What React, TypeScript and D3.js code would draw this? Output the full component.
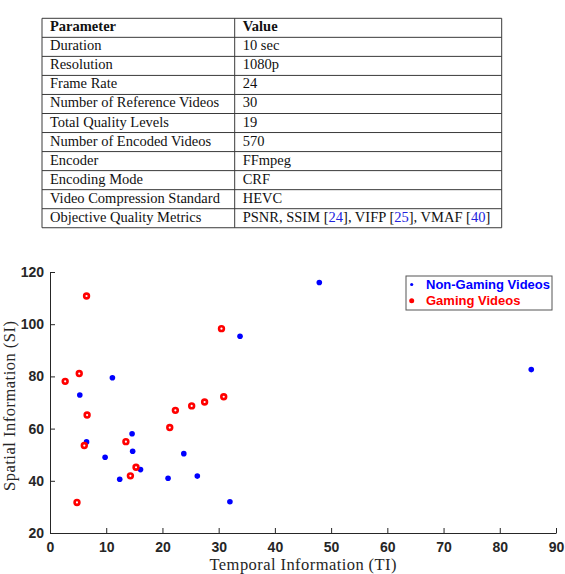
import React, { useRef, useEffect } from 'react';
import * as d3 from 'd3';

// table content
const paramNames = [
  'Duration',
  'Resolution',
  'Frame Rate',
  'Number of Reference Videos',
  'Total Quality Levels',
  'Number of Encoded Videos',
  'Encoder',
  'Encoding Mode',
  'Video Compression Standard',
  'Objective Quality Metrics',
];
const paramValues = [
  '10 sec',
  '1080p',
  '24',
  '30',
  '19',
  '570',
  'FFmpeg',
  'CRF',
  'HEVC',
  'PSNR, SSIM [24], VIFP [25], VMAF [40]',
];

// scatter data (TI, SI)
const nonGamingTI = [47.9, 85.6, 33.8, 11.1, 5.3, 6.5, 14.6, 14.7, 9.8, 23.8, 16.1, 12.4, 21.0, 26.2, 32.0];
const nonGamingSI = [116.0, 82.6, 95.4, 79.5, 72.9, 54.9, 58.0, 51.3, 49.0, 50.4, 44.3, 40.6, 41.0, 41.8, 32.0];
const gamingTI = [6.5, 30.5, 5.2, 2.7, 6.6, 30.9, 27.5, 25.2, 22.3, 21.3, 13.5, 6.1, 15.3, 14.3, 4.8];
const gamingSI = [110.8, 98.3, 81.1, 78.1, 65.2, 72.2, 70.2, 68.7, 67.0, 60.4, 55.0, 53.5, 45.2, 41.9, 31.7];

const xTicks = [0, 10, 20, 30, 40, 50, 60, 70, 80, 90];
const yTicks = [20, 40, 60, 80, 100, 120];

const W = 565;
const H = 574;

function App() {
  const svgRef = useRef<SVGSVGElement | null>(null);

  useEffect(() => {
    const svg = d3.select(svgRef.current);
    svg.selectAll('*').remove();

    // ---- table ----
    const tLeft = 42, tMid = 234.7, tRight = 501.7, tTop = 18.3, rowH = 19.04;
    const rows = [['Parameter', 'Value'], ...paramNames.map((p, i) => [p, paramValues[i]])];
    const table = svg.append('g')
      .style('font-family', '"Liberation Serif", "Times New Roman", serif')
      .style('font-size', '14.5px');

    const rowY = d3.scaleLinear().domain([0, rows.length]).range([tTop, tTop + rowH * rows.length]);

    table.selectAll('line.h')
      .data(d3.range(rows.length + 1))
      .enter().append('line')
      .attr('x1', tLeft).attr('x2', tRight)
      .attr('y1', d => rowY(d)).attr('y2', d => rowY(d))
      .attr('stroke', '#3a3a3a').attr('stroke-width', 1);
    [tLeft, tMid, tRight].forEach(x => {
      table.append('line')
        .attr('x1', x).attr('x2', x)
        .attr('y1', rowY(0)).attr('y2', rowY(rows.length))
        .attr('stroke', '#3a3a3a').attr('stroke-width', 1);
    });

    rows.forEach((r, i) => {
      const y = rowY(i) + 13;
      table.append('text')
        .attr('x', 50).attr('y', y)
        .attr('font-weight', i === 0 ? 'bold' : 'normal')
        .attr('fill', '#111')
        .text(r[0]);
      const t = table.append('text')
        .attr('x', 242.7).attr('y', y)
        .attr('font-weight', i === 0 ? 'bold' : 'normal')
        .attr('fill', '#111');
      // citations: number inside brackets in blue
      r[1].split(/(\[\d+\])/).filter(s => s.length).forEach(seg => {
        const m = seg.match(/^\[(\d+)\]$/);
        if (m) {
          t.append('tspan').text('[');
          t.append('tspan').attr('fill', '#2222dd').text(m[1]);
          t.append('tspan').text(']');
        } else {
          t.append('tspan').text(seg);
        }
      });
    });

    // ---- scatter ----
    const x = d3.scaleLinear().domain([0, 90]).range([50, 556]);
    const y = d3.scaleLinear().domain([20, 120]).range([533, 272]);
    const axisColor = '#262626';

    const xAxis = svg.append('g')
      .attr('transform', `translate(0,${y(20)})`)
      .call(d3.axisBottom(x).tickValues(xTicks).tickSizeInner(-5).tickSizeOuter(0).tickPadding(9));
    const yAxis = svg.append('g')
      .attr('transform', `translate(${x(0)},0)`)
      .call(d3.axisLeft(y).tickValues(yTicks).tickSizeInner(-5).tickSizeOuter(0).tickPadding(6));

    [xAxis, yAxis].forEach(g => {
      g.select('.domain').attr('stroke', axisColor).attr('stroke-width', 1);
      g.selectAll('.tick line').attr('stroke', axisColor).attr('stroke-width', 1);
      g.selectAll('.tick text')
        .attr('fill', axisColor)
        .style('font-family', '"Liberation Sans", Arial, sans-serif')
        .style('font-size', '14px')
        .style('font-weight', 'bold');
    });

    svg.append('g')
      .selectAll('circle')
      .data(nonGamingTI.map((t, i) => [t, nonGamingSI[i]]))
      .enter().append('circle')
      .attr('cx', d => x(d[0]))
      .attr('cy', d => y(d[1]))
      .attr('r', 2.8)
      .attr('fill', '#0000ff');

    svg.append('g')
      .selectAll('circle')
      .data(gamingTI.map((t, i) => [t, gamingSI[i]]))
      .enter().append('circle')
      .attr('cx', d => x(d[0]))
      .attr('cy', d => y(d[1]))
      .attr('r', 2.4)
      .attr('fill', '#ffffff')
      .attr('stroke', '#ff0000')
      .attr('stroke-width', 2.6);

    // axis titles
    const labelFont = '"Liberation Serif", "Times New Roman", serif';
    svg.append('text')
      .attr('x', 303).attr('y', 570)
      .attr('text-anchor', 'middle')
      .attr('textLength', 187)
      .attr('lengthAdjust', 'spacing')
      .style('font-family', labelFont)
      .style('font-size', '16.5px')
      .attr('fill', axisColor)
      .text('Temporal Information (TI)');
    svg.append('text')
      .attr('transform', 'translate(15,406) rotate(-90)')
      .attr('text-anchor', 'middle')
      .attr('textLength', 170)
      .attr('lengthAdjust', 'spacing')
      .style('font-family', labelFont)
      .style('font-size', '16.5px')
      .attr('fill', axisColor)
      .text('Spatial Information (SI)');

    // legend
    const lg = svg.append('g');
    lg.append('rect')
      .attr('x', 406).attr('y', 276).attr('width', 146).attr('height', 34)
      .attr('fill', '#fff').attr('stroke', '#555').attr('stroke-width', 1);
    const legendItems = [
      { label: 'Non-Gaming Videos', color: '#0000ff', r: 1.6, y: 289 },
      { label: 'Gaming Videos', color: '#ff0000', r: 2.5, y: 305.3 },
    ];
    legendItems.forEach(it => {
      lg.append('circle')
        .attr('cx', 411.7).attr('cy', it.y - 4.5).attr('r', it.r)
        .attr('fill', it.color);
      lg.append('text')
        .attr('x', 426).attr('y', it.y)
        .style('font-family', '"Liberation Sans", Arial, sans-serif')
        .style('font-size', '13px')
        .style('font-weight', 'bold')
        .attr('fill', it.color)
        .text(it.label);
    });
  }, []);

  return (
    <svg
      ref={svgRef}
      width={W}
      height={H}
      style={{ position: 'absolute', left: 0, top: 0, background: '#fff' }}
    />
  );
}

export default App;
